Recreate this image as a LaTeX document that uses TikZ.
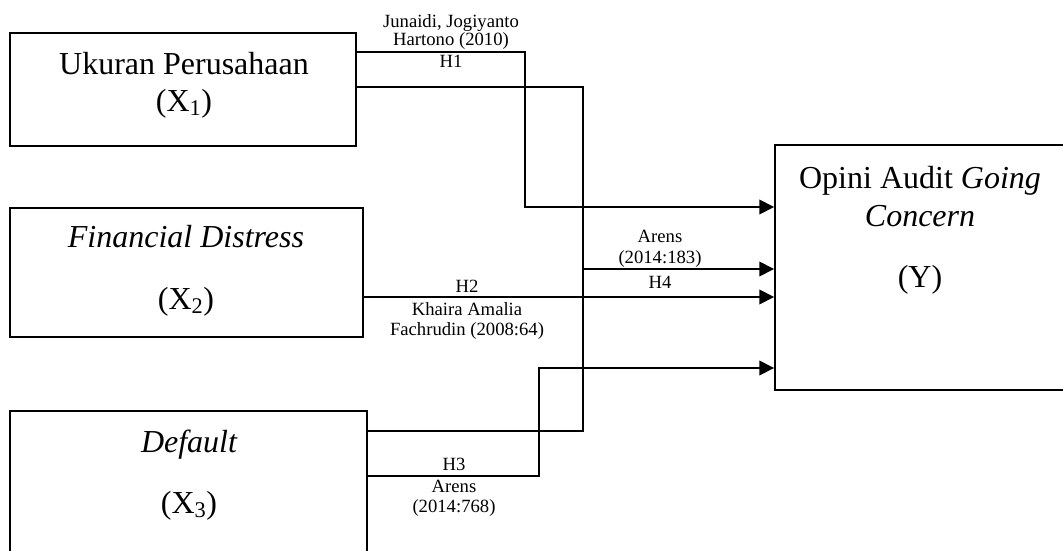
\documentclass[tikz,border=0pt]{standalone}
\usepackage{fontspec}
\setmainfont{Liberation Serif}
\usetikzlibrary{arrows.meta}
\tikzset{
  box/.style={draw, line width=1.4pt, inner sep=0pt, rectangle},
  conn/.style={line width=1pt},
  arr/.style={conn, -{Triangle[length=11pt, width=11pt]}},
  big/.style={font=\fontsize{24}{28}\selectfont, inner sep=0pt, anchor=base},
  lab/.style={font=\fontsize{14}{16}\selectfont, inner sep=0pt, anchor=base},
}
\begin{document}
\begin{tikzpicture}[x=0.75pt, y=-0.75pt]
\useasboundingbox (0,0) rectangle (1063,550);
\clip (0,0) rectangle (1063,550);
% boxes
\node[box, minimum width=259.5pt, minimum height=84.75pt] (X1) at (183,89.5) {};
\node[box, minimum width=264.75pt, minimum height=96.75pt] (X2) at (186.5,272.5) {};
\node[box, minimum width=267.75pt, minimum height=126.75pt] (X3) at (188.5,495.5) {};
\node[box, minimum width=236.25pt, minimum height=183.75pt] (Y) at (932.5,267.5) {};
% box texts
\node[big] (t1a) at (184,74) {Ukuran Perusahaan};
\node[big] (t1b) at (184,111) {(X\textsubscript{1})};
\node[big] (t2a) at (186,247) {\itshape Financial Distress};
\node[big] (t2b) at (186,309) {(X\textsubscript{2})};
\node[big] (t3a) at (189,452) {\itshape Default};
\node[big] (t3b) at (189,513) {(X\textsubscript{3})};
\node[big] (tya) at (920,188) {Opini Audit \textit{Going}};
\node[big] (tyb) at (920,226) {\itshape Concern};
\node[big] (tyc) at (920,287) {(Y)};
% connectors
\draw[arr] (X1.east |- 0,52) -| (525,207) -- (Y.west |- 0,207);
\draw[conn] (X1.east |- 0,87) -| (583,431) -- (X3.east |- 0,431);
\draw[arr] (583,269) -- (Y.west |- 0,269);
\draw[arr] (X2.east |- 0,297) -- (Y.west |- 0,297);
\draw[arr] (X3.east |- 0,476) -| (539,368) -- (Y.west |- 0,368);
% labels
\node[lab] (l1a) at (451,27) {Junaidi, Jogiyanto};
\node[lab] (l1b) at (451,45) {Hartono (2010)};
\node[lab] (l1c) at (451,67) {H1};
\node[lab] (l4a) at (660,242) {Arens};
\node[lab] (l4b) at (660,263) {(2014:183)};
\node[lab] (l4c) at (660,288) {H4};
\node[lab] (l2a) at (467,292) {H2};
\node[lab] (l2b) at (467,315) {Khaira Amalia};
\node[lab] (l2c) at (467,335) {Fachrudin (2008:64)};
\node[lab] (l3a) at (454,470) {H3};
\node[lab] (l3b) at (454,492) {Arens};
\node[lab] (l3c) at (454,512) {(2014:768)};
\end{tikzpicture}
\end{document}
